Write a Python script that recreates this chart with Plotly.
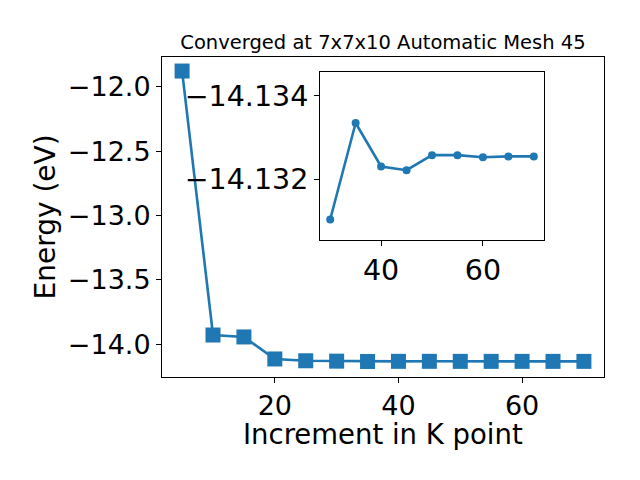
import plotly.graph_objects as go

# Main series
k_main = [5, 10, 15, 20, 25, 30, 35, 40, 45, 50, 55, 60, 65, 70]
e_main = [-11.878, -13.928, -13.943, -14.114, -14.128, -14.131, -14.1334, -14.1323,
          -14.1322, -14.1326, -14.1326, -14.1325, -14.1326, -14.1326]

# Inset series
k_inset = [30, 35, 40, 45, 50, 55, 60, 65, 70]
e_inset = [-14.13104, -14.13335, -14.13231, -14.13222, -14.13258, -14.13258,
           -14.13253, -14.13255, -14.13255]
inset_ticks = [-14.134, -14.132]

blue = "#1f77b4"
font = "DejaVu Sans"
OFF = 8  # page body margin


def px(x):
    return (x - OFF) / 640


def py(y):
    return 1 - (y - OFF) / 480


fig = go.Figure()
fig.add_trace(go.Scatter(x=k_main, y=e_main, mode="lines+markers",
                         line=dict(color=blue, width=2.6),
                         marker=dict(symbol="square", size=15, color=blue),
                         xaxis="x", yaxis="y", showlegend=False))
fig.add_trace(go.Scatter(x=k_inset, y=e_inset, mode="lines+markers",
                         line=dict(color=blue, width=2.6),
                         marker=dict(symbol="circle", size=8, color=blue),
                         xaxis="x2", yaxis="y2", showlegend=False))


def axis_common(size):
    return dict(showgrid=False, zeroline=False, showline=True, linecolor="black",
                linewidth=1, mirror=True, ticks="outside", ticklen=5,
                tickcolor="black", tickfont=dict(family=font, size=size, color="black"))


fig.update_layout(
    width=640, height=480,
    margin=dict(l=0, r=0, t=0, b=0),
    paper_bgcolor="white", plot_bgcolor="white",
    font=dict(family=font, color="black"),
    title=dict(text="Converged at 7x7x10 Automatic Mesh 45", x=px((162 + 604) / 2), xanchor="center",
               y=py(42), yanchor="middle", xref="paper", yref="paper",
               font=dict(family=font, size=19.5, color="black")),
    xaxis=dict(domain=[px(162), px(604)], range=[1.75, 73.25],
               tickvals=[20, 40, 60], **axis_common(27)),
    yaxis=dict(domain=[py(377), py(57)], range=[-14.254, -11.769],
               tickvals=[-14.0, -13.5, -13.0, -12.5, -12.0], tickformat=".1f",
               **axis_common(27)),
    xaxis2=dict(domain=[px(320), px(544)], range=[28, 72], anchor="y2",
                tickvals=[40, 60], **axis_common(28.5)),
    yaxis2=dict(domain=[py(240), py(72)], range=[-14.13055, -14.13457], anchor="x2",
                tickvals=inset_ticks, tickformat=".3f", **axis_common(28.5)),
    annotations=[
        dict(text="Increment in K point", xref="paper", yref="paper",
             x=px(383), y=py(434), xanchor="center", yanchor="middle", showarrow=False,
             font=dict(family=font, size=27.5, color="black")),
        dict(text="Energy (eV)", xref="paper", yref="paper", textangle=-90,
             x=px(45), y=py(217.5), xanchor="center", yanchor="middle", showarrow=False,
             font=dict(family=font, size=28, color="black")),
    ],
)

fig.write_html("out.html")
